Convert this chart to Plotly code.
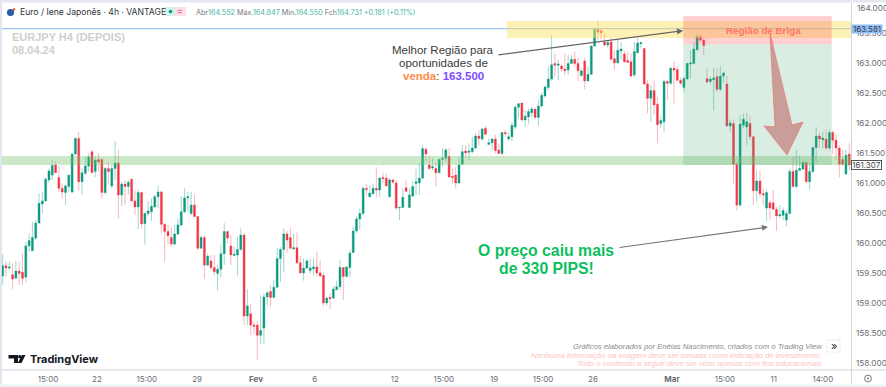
import plotly.graph_objects as go

# ---- data ----
opens = [159.46,159.63,159.59,159.48,159.42,159.54,159.52,159.44,159.96,159.88,
160.09,160.34,160.66,160.71,161.06,161.14,161.31,161.10,160.92,160.85,
160.95,160.86,161.49,161.75,161.03,161.17,161.29,161.53,161.20,161.40,
161.40,160.85,161.25,160.96,161.25,161.34,160.81,160.99,160.95,161.07,
160.71,160.61,160.85,160.33,160.50,160.53,160.61,160.78,160.86,160.32,
160.20,160.10,159.99,160.16,160.31,160.53,160.76,160.50,160.64,160.45,
159.92,160.10,159.64,159.71,159.60,159.50,159.57,159.83,160.20,159.96,
159.80,159.81,159.90,160.14,158.79,158.83,158.64,158.64,158.47,158.59,
159.11,159.20,159.10,159.27,159.75,159.90,160.16,160.10,159.91,159.93,
159.68,159.51,159.59,159.55,159.58,159.61,159.51,159.47,159.01,159.10,
159.09,159.23,159.28,159.60,159.45,159.60,159.85,160.21,160.41,160.50,
160.92,160.78,160.83,160.92,160.89,161.10,161.09,160.78,161.06,161.01,
160.59,160.60,160.93,160.60,160.79,161.00,161.01,161.09,161.57,161.31,
161.26,161.25,161.18,161.40,161.42,161.45,161.12,161.14,161.01,161.32,
161.54,161.52,161.53,161.59,161.79,161.74,161.92,161.65,161.68,161.74,
161.56,161.50,161.85,161.74,161.78,161.94,162.27,162.34,162.06,162.11,
162.18,162.24,162.10,162.29,162.46,162.60,162.74,163.00,162.97,162.96,
162.91,162.89,163.00,163.07,163.00,162.80,163.04,162.71,162.82,163.29,
163.58,163.55,163.36,163.31,163.36,163.08,163.01,163.21,163.16,163.05,
163.03,162.81,163.18,163.33,163.25,162.66,162.42,162.55,162.32,162.00,
162.03,162.70,162.67,162.92,162.90,162.72,162.60,162.74,162.99,163.00,
163.23,163.45,163.39,162.75,162.70,162.73,162.78,162.57,162.79,162.66,
161.96,162.00,161.32,160.64,161.97,161.94,162.00,161.78,160.88,161.04,
160.83,160.59,160.68,160.68,160.57,160.46,160.47,160.39,160.50,161.20,
160.95,161.22,161.24,161.35,161.03,161.20,161.60,161.79,161.73,161.74,
161.59,161.85,161.72,161.59,161.40,161.16,161.49]
highs = [159.82,159.70,159.70,159.67,159.71,159.70,159.84,160.03,160.17,160.36,
160.39,160.84,160.86,161.11,161.25,161.39,161.37,161.29,161.00,160.98,
161.14,161.50,161.77,161.86,161.25,161.45,161.50,161.56,161.45,161.51,
161.42,161.27,161.36,161.31,161.71,161.56,161.03,161.06,161.06,161.08,
160.89,160.90,160.86,160.53,160.71,160.75,160.81,160.96,160.88,160.34,
160.31,160.28,160.31,160.42,160.78,160.92,160.86,160.86,160.81,160.46,
160.14,160.14,159.83,159.81,159.81,159.64,159.98,160.34,160.21,160.14,
159.95,160.11,160.25,160.18,159.24,158.98,158.70,158.70,159.14,159.17,
159.20,159.31,159.39,159.92,159.94,160.25,160.21,160.27,160.17,160.18,
159.79,159.75,159.75,159.74,159.75,159.86,159.71,159.51,159.10,159.17,
159.29,159.38,159.73,159.60,159.62,159.89,160.28,160.45,160.58,160.95,
161.00,160.97,161.00,161.27,161.11,161.18,161.17,161.09,161.07,161.06,
160.62,160.92,161.05,160.92,161.03,161.24,161.34,161.64,161.60,161.47,
161.42,161.35,161.42,161.59,161.59,161.59,161.25,161.28,161.45,161.64,
161.64,161.67,161.78,161.84,161.89,161.92,161.96,161.75,161.75,161.81,
161.67,161.86,161.90,161.85,162.02,162.30,162.34,162.35,162.22,162.25,
162.28,162.25,162.39,162.52,162.63,162.95,163.47,163.17,163.06,163.00,
163.17,163.14,163.14,163.20,163.09,162.92,163.09,162.95,163.31,163.60,
163.72,163.57,163.50,163.39,163.43,163.22,163.39,163.36,163.21,163.20,
163.17,163.36,163.42,163.36,163.25,162.72,162.64,162.72,162.44,162.12,
162.72,162.73,162.95,163.03,162.95,162.77,162.78,163.01,163.22,163.35,
163.51,163.50,163.42,162.92,162.78,162.93,162.92,162.96,162.86,162.79,
162.07,162.06,161.36,162.14,162.17,162.17,162.12,161.80,161.22,161.22,
160.92,160.90,160.72,160.89,160.61,160.64,160.60,160.55,161.25,161.45,
161.56,161.47,161.38,161.36,161.35,161.61,161.94,161.85,161.86,161.89,
161.89,161.89,161.81,161.64,161.56,161.56,161.67]
lows = [159.31,159.44,159.56,159.24,159.42,159.31,159.31,159.36,159.87,159.88,
160.06,160.34,160.50,160.70,161.01,161.06,161.17,160.86,160.75,160.64,
160.86,160.84,161.47,160.88,160.81,161.14,161.20,161.17,161.11,161.20,
160.75,160.81,160.98,160.92,161.06,160.42,160.62,160.64,160.81,160.70,
160.48,160.24,160.25,159.98,160.45,160.38,160.59,160.59,160.17,159.70,
159.98,159.95,159.97,160.14,160.28,160.50,160.53,160.47,160.44,159.89,
159.92,159.41,159.62,159.56,159.47,159.21,159.44,159.64,160.00,159.64,
159.78,159.47,159.89,158.64,158.64,158.48,158.49,158.06,158.33,158.33,
158.97,158.95,159.09,159.25,159.36,159.53,159.84,159.90,159.90,159.66,
159.50,159.38,159.57,159.50,159.47,159.46,159.44,158.96,158.97,158.90,
159.07,159.23,159.23,159.06,159.44,159.44,159.84,160.17,160.23,160.47,
160.80,160.77,160.81,160.77,160.77,161.00,160.95,160.77,161.00,160.56,
160.39,160.59,160.86,160.59,160.78,160.81,160.81,161.07,161.36,161.22,
161.22,160.95,161.17,161.28,161.36,161.09,161.00,160.92,161.00,161.31,
161.42,161.39,161.50,161.57,161.64,161.72,161.81,161.64,161.56,161.50,
161.49,161.47,161.78,161.72,161.71,161.90,162.09,162.03,161.95,162.00,
162.11,162.09,161.96,162.27,162.43,162.56,162.71,162.78,162.72,162.86,
162.81,162.81,163.00,162.95,162.70,162.78,162.57,162.70,162.81,163.28,
163.39,163.41,163.28,163.25,163.06,162.89,163.00,163.06,163.01,163.00,
162.77,162.77,163.17,163.25,162.64,162.17,162.03,162.14,161.67,161.92,
161.86,162.39,162.64,162.33,162.71,162.64,162.53,162.73,162.75,162.99,
163.21,163.36,163.14,162.67,162.65,162.21,162.53,162.53,162.67,161.95,
161.86,161.00,160.55,160.61,161.92,161.64,161.72,160.64,160.70,160.77,
160.64,160.37,160.40,160.57,160.21,160.42,160.39,160.28,160.49,160.94,
160.92,161.20,161.22,161.01,160.90,161.18,161.36,161.59,161.59,161.56,
161.55,161.50,161.39,161.10,161.30,161.14,161.22]
closes = [159.63,159.59,159.61,159.41,159.54,159.50,159.42,159.96,160.05,160.10,
160.34,160.67,160.71,161.07,161.21,161.30,161.18,160.92,160.86,160.96,
161.14,161.49,161.75,161.03,161.18,161.29,161.44,161.18,161.39,161.36,
160.85,161.25,161.20,161.25,161.34,160.81,160.99,160.95,161.02,160.71,
160.61,160.85,160.33,160.50,160.54,160.62,160.78,160.86,160.32,160.20,
160.13,159.99,160.16,160.31,160.53,160.76,160.78,160.64,160.45,159.92,
160.10,159.64,159.79,159.60,159.53,159.57,159.83,160.20,160.09,159.81,
159.82,159.90,160.14,158.79,158.96,158.64,158.62,158.47,158.55,159.11,
159.18,159.10,159.27,159.75,159.90,160.16,160.06,159.92,159.93,159.68,
159.51,159.59,159.71,159.59,159.61,159.51,159.46,159.01,159.09,159.08,
159.24,159.28,159.60,159.45,159.61,159.84,160.21,160.41,160.50,160.92,
160.90,160.84,160.92,160.89,161.09,161.08,160.96,161.06,161.02,160.59,
160.60,160.77,160.87,160.81,160.95,161.03,161.09,161.58,161.49,161.25,
161.28,161.18,161.40,161.42,161.56,161.11,161.10,161.01,161.31,161.53,
161.51,161.54,161.59,161.79,161.75,161.91,161.82,161.68,161.74,161.55,
161.50,161.85,161.83,161.78,161.97,162.27,162.33,162.06,162.12,162.20,
162.24,162.10,162.29,162.47,162.61,162.74,162.98,162.97,162.99,162.91,
162.88,163.00,163.07,163.00,162.88,162.88,162.71,162.82,163.29,163.58,
163.52,163.51,163.31,163.35,163.07,163.01,163.22,163.24,163.03,163.02,
162.79,163.20,163.34,163.35,162.66,162.42,162.55,162.31,161.98,162.05,
162.70,162.67,162.92,162.89,162.72,162.67,162.75,163.00,163.01,163.24,
163.45,163.39,163.30,162.69,162.74,162.76,162.57,162.79,162.84,161.96,
162.01,161.32,160.64,161.99,162.07,162.03,161.78,160.88,161.04,160.83,
160.81,160.85,160.59,160.57,160.46,160.48,160.55,160.50,161.20,160.95,
161.22,161.25,161.35,161.03,161.20,161.60,161.79,161.74,161.76,161.59,
161.85,161.72,161.59,161.32,161.32,161.47,161.31]

y_ticks = [158.0,158.5,159.0,159.5,160.0,160.5,161.0,161.5,162.0,162.5,163.0,163.5]
top_tick = "164.000"
x_tick_pos = [13.7,28.5,43.6,58.8,76.6,94.4,118.6,133.4,148.6,163.4,178.5,202.4,218.4,233.2,248.0]
x_tick_labels = ["15:00","22","15:00","29","<b>Fev</b>","6","12","15:00","19","15:00","26","<b>Mar</b>","15:00","11","14:00"]

last_high_line = 163.581
last_price = 161.307
sr_band = (161.31, 161.46)
sell_band = (163.425, 163.708)
red_box = (163.32, 163.79)
green_box = (161.31, 163.32)
sell_band_start = 152.5
box_start, box_end = 205.8, 250.7

FONT = "Inter, Roboto, sans-serif"
ARIAL = "Liberation Sans, Arial, sans-serif"
W, H = 886, 387
L, R, T, B = 2, 35, 0, 17
def X(px): return (px - L) / (W - L - R)
def Y(py): return 1 - (py - T) / (H - T - B)
def ptext(px, py, text, size=9, color="#222", xa="left", font=FONT, **kw):
    return dict(xref="paper", yref="paper", x=X(px), y=Y(py), text=text, showarrow=False,
                xanchor=xa, yanchor="middle", font=dict(size=size, color=color, family=font), **kw)
def poly(pts, fill, line=None, lw=0, layer="above"):
    path = "M " + " L ".join(f"{X(a):.5f},{Y(b):.5f}" for a, b in pts) + " Z"
    return dict(type="path", xref="paper", yref="paper", path=path, fillcolor=fill,
                line=dict(color=line or fill, width=lw), layer=layer)
def rect(x0, y0, x1, y1, fill, line=None, lw=0, layer="above"):
    return dict(type="rect", xref="paper", yref="paper", x0=X(x0), x1=X(x1), y0=Y(y0), y1=Y(y1),
                fillcolor=fill, line=dict(color=line or fill, width=lw), layer=layer)
def circ(cx, cy, r, fill, line=None, lw=0):
    return dict(type="circle", xref="paper", yref="paper", x0=X(cx-r), x1=X(cx+r), y0=Y(cy+r), y1=Y(cy-r),
                fillcolor=fill, line=dict(color=line or fill, width=lw), layer="above")

GREEN, RED = "#0A9A80", "#F23645"
fig = go.Figure(go.Candlestick(
    x=list(range(len(opens))), open=opens, high=highs, low=lows, close=closes,
    increasing=dict(line=dict(color="rgba(10,154,128,0.40)", width=1), fillcolor=GREEN),
    decreasing=dict(line=dict(color="rgba(242,54,69,0.36)", width=1), fillcolor=RED),
    whiskerwidth=0, hoverinfo="skip", showlegend=False))

shapes = [
    rect(0, 0, 2, 387, "#E3E6F0"),
    rect(2, 0, 886, 2.5, "#E6E8F0"),
    rect(0, 384.5, 886, 387, "#EEF0F5"),
    rect(851, 3, 851.8, 384, "#C9CBD1"),
    rect(2, 369.5, 886, 370.5, "#D2D4D9"),
    dict(type="line", xref="paper", x0=0, x1=1, yref="y", y0=last_high_line, y1=last_high_line,
         line=dict(color="#9CC4F5", width=1.2), layer="above"),
    dict(type="rect", xref="paper", x0=0, x1=1, yref="y", y0=sr_band[0], y1=sr_band[1],
         fillcolor="rgba(110,190,105,0.36)", line=dict(width=0), layer="above"),
    dict(type="rect", xref="x", x0=sell_band_start, x1=256.53, yref="y", y0=sell_band[0], y1=sell_band[1],
         fillcolor="rgba(250,228,100,0.48)", line=dict(width=0), layer="above"),
    dict(type="rect", xref="x", x0=box_start, x1=box_end, yref="y", y0=green_box[0], y1=green_box[1],
         fillcolor="rgba(70,165,110,0.2)", line=dict(width=0), layer="above"),
    dict(type="rect", xref="x", x0=box_start, x1=box_end, yref="y", y0=red_box[0], y1=red_box[1],
         fillcolor="rgba(250,80,80,0.27)", line=dict(width=0), layer="above"),
    poly([(770,33),(792,125),(803,122),(787,155),(764,126),(775,127)],
         "rgba(190,105,105,0.6)", "rgba(235,115,115,0.7)", 1),
    circ(10.5, 12.5, 3.6, "#2A5FA8"),
    circ(14, 9.5, 1.3, "#F0503C"),
    rect(164, 7, 175, 16, "#D8F0EA"),
    rect(175, 7, 186, 16, "#FBDFE7"),
    circ(170.5, 11.5, 1.8, "#0A9A80"),
    rect(177.5, 9.8, 182, 10.8, "#F06A96"),
    rect(177.5, 12.2, 182, 13.2, "#F06A96"),
    poly([(8.5,355),(18,355),(18,363),(14,363),(14,358.5),(8.5,358.5)], "#131722"),
    circ(19.8, 356.8, 1.7, "#131722"),
    poly([(22,355),(25.5,355),(21.5,363),(17.8,363)], "#131722"),
    rect(827, 340, 840, 352, "#FFFFFF", "#ECEDF0", 1),
    circ(868, 378.5, 3.4, "rgba(0,0,0,0)", "#777", 1),
    circ(868, 378.5, 1, "#777"),
]
ann = [
    ptext(18, 12, "Euro / Iene Japonês · 4h · VANTAGE", 8.6, "#30333B"),
    ptext(194, 12,
          '<span style="color:#777">Abr</span>164.552 <span style="color:#777">Máx.</span>164.847 '
          '<span style="color:#777">Mín.</span>164.550 <span style="color:#777">Fch</span>164.731 +0.181 (+0.11%)',
          7.2, "#3FB59F"),
    ptext(10, 37.5, "<b>EURJPY H4 (DEPOIS)</b>", 11, "#CFCFCF", font=ARIAL),
    ptext(10, 50, "<b>08.04.24</b>", 11, "#CFCFCF", font=ARIAL),
    ptext(443, 50, "Melhor Região para", 11.5, "#3C3C3C", "center", ARIAL),
    ptext(443, 63, "oportunidades de", 11.5, "#3C3C3C", "center", ARIAL),
    ptext(443, 75.5, '<b><span style="color:#FF8C4B">venda</span></b>: <b><span style="color:#7B4DFF">163.500</span></b>',
          11.5, "#3C3C3C", "center", ARIAL),
    ptext(763, 30, "<b>Região de Briga</b>", 9.8, "#FF7468", "center", ARIAL),
    ptext(546, 250.5, "<b>O preço caiu mais</b>", 15.8, "#0CBF5E", "center", ARIAL),
    ptext(546, 268.5, "<b>de 330 PIPS!</b>", 15.8, "#0CBF5E", "center", ARIAL),
    ptext(823.5, 346, "<i>Gráficos elaborados por Enéias Nascimento, criados com o Trading View</i>", 7.7, "#8B8B8B", "right", ARIAL),
    ptext(823.5, 355.5, "<i>Nenhuma informação na imagem deve ser tomada como indicação de investimento.</i>", 7.8, "#FFC4C4", "right", ARIAL),
    ptext(823.5, 363.5, "<i>Todo o conteúdo a seguir deve ser visto apenas com fins educacionais</i>", 7.8, "#FFC4C4", "right", ARIAL),
    ptext(28, 359, "<b>TradingView</b>", 11, "#131722"),
    ptext(833.5, 345.5, "»", 11, "#333", "center"),
    ptext(855, 7.5, top_tick, 8.2, "#6A6D75"),
    dict(xref="paper", yref="paper", x=X(867), y=Y(28.7), xanchor="center", yanchor="middle", text="163.581",
         showarrow=False, bgcolor="#92BEF5", font=dict(size=8, color="#2A3A55", family=FONT),
         width=30, height=8, borderpad=0, align="center"),
    dict(xref="paper", yref="paper", x=X(866.8), y=Y(165.4), xanchor="center", yanchor="middle", text="161.307",
         showarrow=False, bgcolor="#FFFFFF", bordercolor="#555", borderwidth=1,
         font=dict(size=8, color="#444", family=FONT), width=29, height=8, borderpad=0, align="center"),
    dict(xref="paper", yref="paper", axref="pixel", ayref="pixel", x=X(683), y=Y(30.7), ax=-186, ay=24.3,
         text="", showarrow=True, arrowhead=2, arrowsize=1, arrowwidth=1.2, arrowcolor="#666"),
    dict(xref="paper", yref="paper", axref="pixel", ayref="pixel", x=X(768), y=Y(227), ax=-150, ay=20.7,
         text="", showarrow=True, arrowhead=2, arrowsize=1, arrowwidth=1.2, arrowcolor="#777"),
]

fig.update_layout(
    width=W, height=H, margin=dict(l=L, r=R, t=T, b=B, pad=0),
    paper_bgcolor="white", plot_bgcolor="white", showlegend=False, boxgap=0.15,
    xaxis=dict(range=[-0.2, 256.53], rangeslider=dict(visible=False), showgrid=False, zeroline=False,
               tickvals=x_tick_pos, ticktext=x_tick_labels, ticks="", ticklabelstandoff=3,
               showline=False, tickfont=dict(size=8, color="#6A6D75", family=FONT)),
    yaxis=dict(range=[157.892, 164.058], side="right", showgrid=False, zeroline=False,
               tickvals=y_ticks, ticktext=[f"{v:.3f}" for v in y_ticks], ticks="", ticklabelstandoff=4,
               showline=False, tickfont=dict(size=8.2, color="#6A6D75", family=FONT)),
    shapes=shapes, annotations=ann, hovermode=False,
)
fig.write_html("out.html", config=dict(displayModeBar=False, staticPlot=True),
               post_script="document.body.style.margin='0';")
